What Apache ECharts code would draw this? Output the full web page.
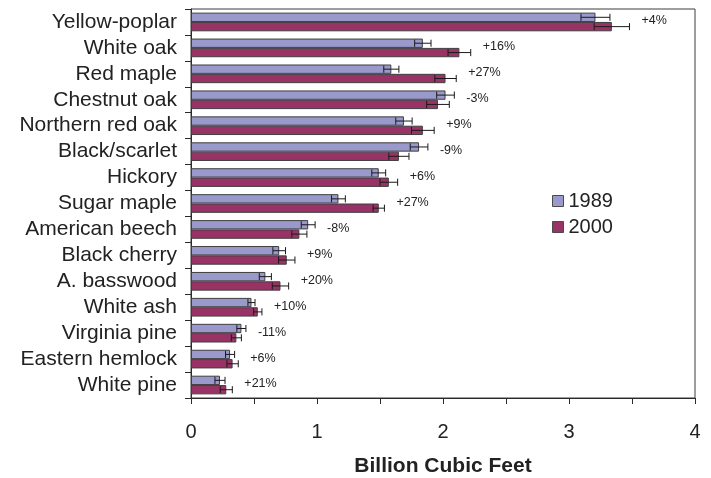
<!DOCTYPE html>
<html>
<head>
<meta charset="utf-8">
<title>Growing stock volume by species, 1989 and 2000</title>
<script src="https://cdn.jsdelivr.net/npm/echarts@6/dist/echarts.min.js"></script>
<style>
  html, body { margin: 0; padding: 0; background: #ffffff; }
  #chart { width: 711px; height: 478px; }
</style>
</head>
<body>
<div id="chart"></div>
<script>
// Species, top to bottom
const species = ['Yellow-poplar', 'White oak', 'Red maple', 'Chestnut oak', 'Northern red oak',
  'Black/scarlet', 'Hickory', 'Sugar maple', 'American beech', 'Black cherry',
  'A. basswood', 'White ash', 'Virginia pine', 'Eastern hemlock', 'White pine'];

// Volume, billion cubic feet
const vol1989 = [3.21, 1.84, 1.59, 2.02, 1.69, 1.81, 1.49, 1.17, 0.93, 0.70, 0.59, 0.48, 0.40, 0.31, 0.23];
const vol2000 = [3.34, 2.13, 2.02, 1.96, 1.84, 1.65, 1.57, 1.49, 0.86, 0.76, 0.71, 0.53, 0.36, 0.33, 0.28];

// Sampling error (+/-), billion cubic feet
const err1989 = [0.115, 0.065, 0.06, 0.07, 0.065, 0.07, 0.055, 0.055, 0.055, 0.05, 0.048, 0.028, 0.036, 0.036, 0.04];
const err2000 = [0.14, 0.09, 0.085, 0.09, 0.09, 0.08, 0.07, 0.045, 0.06, 0.065, 0.065, 0.033, 0.04, 0.045, 0.048];

// Change between inventories
const change = ['+4%', '+16%', '+27%', '-3%', '+9%', '-9%', '+6%', '+27%', '-8%', '+9%',
  '+20%', '+10%', '-11%', '+6%', '+21%'];

const years = ['1989', '2000'];
const FONT = "'Liberation Sans', Arial, sans-serif";
const CAT_GAP = 0.28;

const chart = echarts.init(document.getElementById('chart'), null, { renderer: 'canvas' });

// Error bar with end caps, placed over one of the two bars in a category band
function errorBarRenderer(vals, errs, slot) {
  return function (params, api) {
    const i = api.value(1);
    const v = vals[i], e = errs[i];
    const band = api.size([0, 1])[1];
    const barH = band * (1 - CAT_GAP) / 2;
    const c = api.coord([v, i]);
    const y = c[1] + (slot === 0 ? -barH / 2 : barH / 2);
    const x0 = api.coord([v - e, i])[0];
    const x1 = api.coord([v + e, i])[0];
    const cap = barH * 0.38;
    const style = { stroke: '#1a1a1a', lineWidth: 1 };
    return {
      type: 'group',
      children: [
        { type: 'line', shape: { x1: x0, y1: y, x2: x1, y2: y }, style },
        { type: 'line', shape: { x1: x0, y1: y - cap, x2: x0, y2: y + cap }, style },
        { type: 'line', shape: { x1: x1, y1: y - cap, x2: x1, y2: y + cap }, style }
      ]
    };
  };
}

// Percent change text, just past the longer error bar of each species
function changeLabelRenderer(params, api) {
  const i = api.value(1);
  const hi = Math.max(vol1989[i] + err1989[i], vol2000[i] + err2000[i]);
  const c = api.coord([hi, i]);
  return {
    type: 'text',
    style: {
      x: c[0] + 12,
      y: c[1] - 1,
      text: change[i],
      fill: '#222',
      font: '12.5px ' + FONT,
      textAlign: 'left',
      textVerticalAlign: 'middle'
    }
  };
}

const idx = species.map((_, i) => i);

const option = {
  animation: false,
  backgroundColor: '#ffffff',
  textStyle: { fontFamily: FONT },
  grid: {
    left: 191, right: 16, top: 9, bottom: 80,
    containLabel: false,
    outerBoundsMode: 'none',
    show: true, borderColor: '#3c3c3c', borderWidth: 1, backgroundColor: 'transparent'
  },
  legend: {
    orient: 'vertical',
    left: 552, top: 191,
    itemWidth: 11, itemHeight: 11, itemGap: 6,
    padding: 0,
    icon: 'rect',
    textStyle: { fontSize: 20, color: '#222', fontFamily: FONT },
    data: [
      { name: years[0], itemStyle: { color: '#9999cc', borderColor: '#4a4a4a', borderWidth: 1 } },
      { name: years[1], itemStyle: { color: '#993366', borderColor: '#4a4a4a', borderWidth: 1 } }
    ]
  },
  xAxis: {
    type: 'value',
    min: 0, max: 4, interval: 0.5,
    name: 'Billion Cubic Feet',
    nameLocation: 'middle',
    nameGap: 58,
    nameTextStyle: { fontSize: 21, fontWeight: 'bold', color: '#222', fontFamily: FONT },
    axisLine: { show: true, lineStyle: { color: '#2a2a2a', width: 1 } },
    axisTick: { show: true, length: 6, inside: false, lineStyle: { color: '#2a2a2a' } },
    axisLabel: {
      fontSize: 20, color: '#222', margin: 24, fontFamily: FONT,
      formatter: v => (Number.isInteger(v) ? String(v) : '')
    },
    splitLine: { show: false }
  },
  yAxis: {
    type: 'category',
    data: species,
    inverse: true,
    axisLine: { show: true, lineStyle: { color: '#2a2a2a', width: 1 } },
    axisTick: { show: true, length: 6, alignWithLabel: false, lineStyle: { color: '#2a2a2a' } },
    axisLabel: { fontSize: 21, color: '#222', margin: 14, fontFamily: FONT, interval: 0 },
    splitLine: { show: false }
  },
  series: [
    {
      name: years[0], type: 'bar', data: vol1989,
      barGap: '0%', barCategoryGap: (CAT_GAP * 100) + '%',
      itemStyle: { color: '#9999cc', borderColor: '#3f3f3f', borderWidth: 1 },
      z: 2
    },
    {
      name: years[1], type: 'bar', data: vol2000,
      barGap: '0%', barCategoryGap: (CAT_GAP * 100) + '%',
      itemStyle: { color: '#993366', borderColor: '#3f3f3f', borderWidth: 1 },
      z: 2
    },
    {
      type: 'custom', name: 'err1989',
      renderItem: errorBarRenderer(vol1989, err1989, 0),
      data: idx.map(i => [vol1989[i], i]),
      encode: { x: 0, y: 1 }, z: 5, silent: true
    },
    {
      type: 'custom', name: 'err2000',
      renderItem: errorBarRenderer(vol2000, err2000, 1),
      data: idx.map(i => [vol2000[i], i]),
      encode: { x: 0, y: 1 }, z: 5, silent: true
    },
    {
      type: 'custom', name: 'change',
      renderItem: changeLabelRenderer,
      data: idx.map(i => [vol2000[i], i]),
      encode: { x: 0, y: 1 }, z: 6, silent: true
    }
  ]
};

chart.setOption(option);
</script>
</body>
</html>
